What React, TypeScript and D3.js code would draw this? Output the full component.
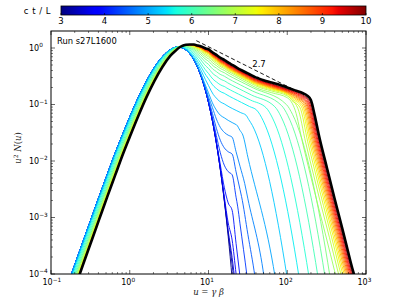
import React from 'react';
import * as d3 from 'd3';

// ---------- data ----------
const xDomain = [0.1, 1000];
const yDomain = [1e-4, 2];
const xTickValues = [0.1, 1, 10, 100, 1000];
const xTickExps = ['\u22121', '0', '1', '2', '3'];
const yTickValues = [1e-4, 1e-3, 1e-2, 1e-1, 1];
const yTickExps = ['\u22124', '\u22123', '\u22122', '\u22121', '0'];
const colorbarTicks = [3, 4, 5, 6, 7, 8, 9, 10];
const runLabel = 'Run s27L1600';
const slopeLabel = '2.7';
const slopeLineU = [7, 195];
const slopeLineV = [1.35, 0.1315];

// thermal part of the earliest spectrum (log10 u, log10 u^2 N)
const thermalLogU = [-1.0, -0.9, -0.8, -0.7, -0.6, -0.5, -0.4, -0.3, -0.2, -0.1, 0, 0.1, 0.2, 0.3, 0.4, 0.5, 0.55, 0.6, 0.65, 0.7, 0.75, 0.8, 0.85, 0.9, 0.95, 1.0, 1.05, 1.1, 1.15, 1.2, 1.25, 1.3, 1.35, 1.4, 1.5];
const thermalLogV = [-5.04, -4.64, -4.24, -3.84, -3.45, -3.06, -2.67, -2.29, -1.91, -1.56, -1.22, -0.9, -0.615, -0.37, -0.175, -0.042, -0.002, 0.016, 0.011, -0.021, -0.081, -0.176, -0.306, -0.479, -0.696, -0.966, -1.293, -1.686, -2.151, -2.7, -3.336, -4.08, -4.93, -5.92, -8.34];

const times = [3, 3.25, 3.5, 3.75, 4, 4.25, 4.5, 4.75, 5, 5.25, 5.5, 5.75, 6, 6.25, 6.5, 6.75, 7, 7.25, 7.5, 7.75, 8, 8.25, 8.5, 8.75, 9, 9.25, 9.5, 9.75, 10];
const thermalShiftLogU = [0, 0, 0, 0, 0, 0, 0, 0, 0, 0.01, 0.02, 0.032, 0.045, 0.057, 0.068, 0.078, 0.087, 0.094, 0.1, 0.104, 0.107, 0.109, 0.11, 0.111, 0.112, 0.113, 0.113, 0.114, 0.114];
const thermalShiftLogV = [0, 0, 0, 0, 0, 0, 0, 0, 0, 0.003, 0.006, 0.01, 0.014, 0.017, 0.021, 0.024, 0.027, 0.029, 0.03, 0.031, 0.032, 0.033, 0.033, 0.034, 0.034, 0.035, 0.035, 0.035, 0.035];

// non-thermal component of each spectrum: [log10 u, log10 u^2 N]
const tailKnots: number[][][] = [
  [],
  [[0.7, -6.2], [0.9, -4.4], [1.05, -4.05], [1.3, -4.2], [1.35, -4.6], [1.45, -5.5], [1.65, -7.5]],
  [[0.7, -5.95], [0.9, -4.15], [1.05, -3.8], [1.3, -3.95], [1.34, -4.3], [1.44, -5.3], [1.64, -7.5]],
  [[0.7, -5.5], [0.9, -3.7], [1.05, -3.35], [1.3, -3.5], [1.35, -4.05], [1.45, -5.2], [1.65, -7.5]],
  [[0.7, -4.9], [0.9, -3.1], [1.05, -2.75], [1.3, -2.9], [1.4, -4.05], [1.5, -5.2], [1.7, -7.5]],
  [[0.7, -4.25], [0.9, -2.45], [1.05, -2.1], [1.3, -2.25], [1.37, -2.8], [1.49, -4.05], [1.59, -5.2], [1.79, -7.5]],
  [[0.7, -3.88], [0.9, -2.08], [1.05, -1.73], [1.3, -1.88], [1.42, -2.63], [1.59, -4.05], [1.69, -5.2], [1.89, -7.5]],
  [[0.7, -3.58], [0.9, -1.78], [1.05, -1.43], [1.3, -1.58], [1.46, -2.4], [1.705, -4.05], [1.805, -5.2], [2.005, -7.5]],
  [[0.6, -4.02], [0.8, -2.02], [0.9, -1.53], [1.0, -1.28], [1.1, -1.23], [1.2, -1.25], [1.3, -1.32], [1.356, -1.36], [1.436, -1.54], [1.845, -4.05], [1.945, -5.0], [2.145, -7.3]],
  [[0.6, -3.77], [0.8, -1.77], [0.9, -1.28], [1.0, -1.03], [1.1, -0.98], [1.2, -1.0], [1.3, -1.07], [1.477, -1.19], [1.557, -1.37], [1.997, -4.05], [2.097, -5.0], [2.297, -7.3]],
  [[0.6, -3.58], [0.8, -1.58], [0.9, -1.09], [1.0, -0.84], [1.1, -0.79], [1.2, -0.81], [1.3, -0.88], [1.612, -1.1], [1.692, -1.28], [2.149, -4.05], [2.249, -5.0], [2.449, -7.3]],
  [[0.6, -3.46], [0.8, -1.46], [0.9, -0.97], [1.0, -0.72], [1.1, -0.67], [1.2, -0.69], [1.3, -0.76], [1.733, -1.06], [1.813, -1.24], [2.276, -4.05], [2.376, -5.0], [2.576, -7.3]],
  [[0.6, -3.36], [0.8, -1.36], [0.9, -0.87], [1.0, -0.62], [1.1, -0.57], [1.2, -0.59], [1.3, -0.66], [1.843, -1.04], [1.923, -1.22], [2.39, -4.05], [2.49, -5.0], [2.69, -7.3]],
  [[0.6, -3.28], [0.8, -1.28], [0.9, -0.79], [1.0, -0.54], [1.1, -0.49], [1.2, -0.51], [1.3, -0.58], [1.929, -1.02], [2.009, -1.2], [2.48, -4.05], [2.58, -5.0], [2.78, -7.3]],
  [[0.6, -3.22], [0.8, -1.22], [0.9, -0.73], [1.0, -0.48], [1.1, -0.43], [1.2, -0.45], [1.3, -0.52], [1.989, -1.0], [2.069, -1.18], [2.543, -4.05], [2.643, -5.0], [2.843, -7.3]],
  [[0.6, -3.18], [0.8, -1.18], [0.9, -0.69], [1.0, -0.44], [1.1, -0.39], [1.2, -0.41], [1.3, -0.48], [1.6, -0.7], [1.8, -0.79], [2.0, -0.88], [2.1, -1.1], [2.2, -1.71], [2.3, -2.28], [2.4, -2.84], [2.5, -3.38], [2.6, -3.94], [2.7, -4.48], [2.9, -6.18]],
  [[0.6, -3.15], [0.8, -1.15], [0.9, -0.66], [1.0, -0.41], [1.1, -0.36], [1.2, -0.38], [1.3, -0.45], [1.6, -0.67], [1.8, -0.76], [2.0, -0.85], [2.135, -1.07], [2.235, -1.68], [2.335, -2.25], [2.435, -2.81], [2.535, -3.35], [2.635, -3.91], [2.735, -4.45], [2.935, -6.15]],
  [[0.6, -3.13], [0.8, -1.13], [0.9, -0.64], [1.0, -0.39], [1.1, -0.34], [1.2, -0.36], [1.3, -0.43], [1.6, -0.65], [1.8, -0.74], [2.0, -0.83], [2.06, -0.93], [2.16, -1.05], [2.26, -1.66], [2.36, -2.23], [2.46, -2.79], [2.56, -3.33], [2.66, -3.89], [2.76, -4.43], [2.96, -6.13]],
  [[0.6, -3.115], [0.8, -1.115], [0.9, -0.625], [1.0, -0.375], [1.1, -0.325], [1.2, -0.345], [1.3, -0.415], [1.6, -0.635], [1.8, -0.725], [2.0, -0.815], [2.08, -0.915], [2.18, -1.035], [2.28, -1.645], [2.38, -2.215], [2.48, -2.775], [2.58, -3.315], [2.68, -3.875], [2.78, -4.415], [2.98, -6.115]],
  [[0.6, -3.105], [0.8, -1.105], [0.9, -0.615], [1.0, -0.365], [1.1, -0.315], [1.2, -0.335], [1.3, -0.405], [1.6, -0.625], [1.8, -0.715], [2.0, -0.805], [2.097, -0.905], [2.197, -1.025], [2.297, -1.635], [2.397, -2.205], [2.497, -2.765], [2.597, -3.305], [2.697, -3.865], [2.797, -4.405], [2.997, -6.105]],
  [[0.6, -3.095], [0.8, -1.095], [0.9, -0.605], [1.0, -0.355], [1.1, -0.305], [1.2, -0.325], [1.3, -0.395], [1.6, -0.615], [1.8, -0.705], [2.0, -0.795], [2.112, -0.895], [2.212, -1.015], [2.312, -1.625], [2.412, -2.195], [2.512, -2.755], [2.612, -3.295], [2.712, -3.855], [2.812, -4.395], [3.012, -6.095]],
  [[0.6, -3.085], [0.8, -1.085], [0.9, -0.595], [1.0, -0.345], [1.1, -0.295], [1.2, -0.315], [1.3, -0.385], [1.6, -0.605], [1.8, -0.695], [2.0, -0.785], [2.125, -0.885], [2.225, -1.005], [2.325, -1.615], [2.425, -2.185], [2.525, -2.745], [2.625, -3.285], [2.725, -3.845], [2.825, -4.385], [3.025, -6.085]],
  [[0.6, -3.075], [0.8, -1.075], [0.9, -0.585], [1.0, -0.335], [1.1, -0.285], [1.2, -0.305], [1.3, -0.375], [1.6, -0.595], [1.8, -0.685], [2.0, -0.775], [2.137, -0.875], [2.237, -0.995], [2.337, -1.605], [2.437, -2.175], [2.537, -2.735], [2.637, -3.275], [2.737, -3.835], [2.837, -4.375], [3.037, -6.075]],
  [[0.6, -3.065], [0.8, -1.065], [0.9, -0.575], [1.0, -0.325], [1.1, -0.275], [1.2, -0.295], [1.3, -0.365], [1.6, -0.585], [1.8, -0.675], [2.0, -0.765], [2.148, -0.865], [2.248, -0.985], [2.348, -1.595], [2.448, -2.165], [2.548, -2.725], [2.648, -3.265], [2.748, -3.825], [2.848, -4.365], [3.048, -6.065]],
  [[0.6, -3.055], [0.8, -1.055], [0.9, -0.565], [1.0, -0.315], [1.1, -0.265], [1.2, -0.285], [1.3, -0.355], [1.6, -0.575], [1.8, -0.665], [2.0, -0.755], [2.158, -0.855], [2.258, -0.975], [2.358, -1.585], [2.458, -2.155], [2.558, -2.715], [2.658, -3.255], [2.758, -3.815], [2.858, -4.355], [3.058, -6.055]],
  [[0.6, -3.045], [0.8, -1.045], [0.9, -0.555], [1.0, -0.305], [1.1, -0.255], [1.2, -0.275], [1.3, -0.345], [1.6, -0.565], [1.8, -0.655], [2.0, -0.745], [2.168, -0.845], [2.268, -0.965], [2.368, -1.575], [2.468, -2.145], [2.568, -2.705], [2.668, -3.245], [2.768, -3.805], [2.868, -4.345], [3.068, -6.045]],
  [[0.6, -3.035], [0.8, -1.035], [0.9, -0.545], [1.0, -0.295], [1.1, -0.245], [1.2, -0.265], [1.3, -0.335], [1.6, -0.555], [1.8, -0.645], [2.0, -0.735], [2.178, -0.835], [2.278, -0.955], [2.378, -1.565], [2.478, -2.135], [2.578, -2.695], [2.678, -3.235], [2.778, -3.795], [2.878, -4.335], [3.078, -6.035]],
  [[0.6, -3.025], [0.8, -1.025], [0.9, -0.535], [1.0, -0.285], [1.1, -0.235], [1.2, -0.255], [1.3, -0.325], [1.6, -0.545], [1.8, -0.635], [2.0, -0.725], [2.188, -0.825], [2.288, -0.945], [2.388, -1.555], [2.488, -2.125], [2.588, -2.685], [2.688, -3.225], [2.788, -3.785], [2.888, -4.325], [3.088, -6.025]],
  [[0.6, -3.0], [0.8, -1.0], [0.9, -0.51], [1.0, -0.26], [1.1, -0.21], [1.2, -0.23], [1.3, -0.3], [1.4, -0.38], [1.5, -0.45], [1.6, -0.52], [1.7, -0.57], [1.8, -0.61], [1.9, -0.65], [2.0, -0.7], [2.1, -0.75], [2.2, -0.8], [2.25, -0.84], [2.3, -0.92], [2.35, -1.2], [2.4, -1.53], [2.5, -2.1], [2.6, -2.66], [2.7, -3.2], [2.8, -3.76], [2.9, -4.3], [3.0, -5.0], [3.1, -6]],
];

// ---------- helpers ----------
const jetR = d3.scaleLinear().domain([0, 0.35, 0.66, 0.89, 1]).range([0, 0, 1, 1, 0.5]).clamp(true);
const jetG = d3.scaleLinear().domain([0, 0.125, 0.375, 0.64, 0.91, 1]).range([0, 0, 1, 1, 0, 0]).clamp(true);
const jetB = d3.scaleLinear().domain([0, 0.11, 0.34, 0.65, 1]).range([0.5, 1, 1, 0, 0]).clamp(true);
const jet = (f: number) => d3.rgb(255 * jetR(f), 255 * jetG(f), 255 * jetB(f)).formatHex();

function interp(xs: number[], ys: number[], x: number): number {
  if (!xs.length || x < xs[0] || x > xs[xs.length - 1]) return -30;
  let j = d3.bisectRight(xs, x);
  if (j >= xs.length) j = xs.length - 1;
  if (j < 1) j = 1;
  const x0 = xs[j - 1], x1 = xs[j];
  const f = (x - x0) / (x1 - x0);
  return ys[j - 1] + f * (ys[j] - ys[j - 1]);
}

function spectrum(i: number): [number, number][] {
  const dlu = thermalShiftLogU[i];
  const dlv = thermalShiftLogV[i];
  const knots = tailKnots[i];
  const kx = knots.map(k => k[0]);
  const ky = knots.map(k => k[1]);
  const set = new Set<number>();
  thermalLogU.forEach(l => set.add(+(l + dlu).toFixed(4)));
  kx.forEach(l => set.add(l));
  const lus = Array.from(set).sort((a, b) => a - b);
  const pts: [number, number][] = [];
  lus.forEach(lu => {
    const th = interp(thermalLogU, thermalLogV, lu - dlu) + dlv;
    const tl = interp(kx, ky, lu);
    const v = Math.pow(10, th) + Math.pow(10, tl);
    if (Math.log10(v) > -9) pts.push([Math.pow(10, lu), v]);
  });
  return pts;
}

export default function App() {
  const X0 = 51, X1 = 366, Y0 = 31, Y1 = 274;
  const x = d3.scaleLog().domain(xDomain).range([X0, X1]);
  const y = d3.scaleLog().domain(yDomain).range([Y1, Y0]);
  const cb = d3.scaleLinear().domain([3, 10]).range([61, 366]);
  const cbY0 = 6, cbY1 = 15;

  const line = d3.line<[number, number]>()
    .x(d => x(d[0]))
    .y(d => y(d[1]))
    .curve(d3.curveMonotoneX);

  const xMinor: number[] = [];
  [0.1, 1, 10, 100].forEach(dec => { for (let k = 2; k <= 9; k++) xMinor.push(dec * k); });
  const yMinor: number[] = [];
  [1e-4, 1e-3, 1e-2, 1e-1].forEach(dec => { for (let k = 2; k <= 9; k++) yMinor.push(dec * k); });

  const gradStops = d3.range(0, 1.0001, 0.01);
  const font = 'DejaVu Sans, Liberation Sans, sans-serif';
  const serif = 'DejaVu Serif, Liberation Serif, serif';

  return (
    <svg width={407} height={305} style={{ position: 'absolute', left: 0, top: 0, background: '#fff' }} fontFamily={font}>
      <defs>
        <clipPath id="plotClip">
          <rect x={X0} y={Y0} width={X1 - X0} height={Y1 - Y0} />
        </clipPath>
        <linearGradient id="jetGrad" x1="0" x2="1" y1="0" y2="0">
          {gradStops.map(s => <stop key={s} offset={s} stopColor={jet(s)} />)}
        </linearGradient>
      </defs>
      <rect x={0} y={0} width={407} height={305} fill="#fff" />

      {/* colorbar */}
      <rect x={cb(3)} y={cbY0} width={cb(10) - cb(3)} height={cbY1 - cbY0} fill="url(#jetGrad)" stroke="#000" strokeWidth={0.8} />
      {colorbarTicks.map(t => (
        <g key={t}>
          <line x1={cb(t)} x2={cb(t)} y1={cbY1} y2={cbY1 - 2} stroke="#000" strokeWidth={0.6} />
          <text x={cb(t)} y={24} fontSize={8.5} textAnchor="middle">{t}</text>
        </g>
      ))}
      <text x={51} y={13.5} fontSize={8.5} textAnchor="end" letterSpacing={0.5}>c t / L</text>

      {/* curves */}
      <g clipPath="url(#plotClip)">
        {times.map((t, i) => i < times.length - 1 ? (
          <path key={t} d={line(spectrum(i)) || ''} fill="none" stroke={jet((t - 3) / 7)} strokeWidth={0.9} />
        ) : null)}
        <path d={line(spectrum(times.length - 1)) || ''} fill="none" stroke="#000" strokeWidth={2.6} />
        <line x1={x(slopeLineU[0])} y1={y(slopeLineV[0])} x2={x(slopeLineU[1])} y2={y(slopeLineV[1])}
          stroke="#000" strokeWidth={0.9} strokeDasharray="4,2.5" />
      </g>
      <text x={x(43.8)} y={y(0.46)} fontSize={8.5} textAnchor="middle">{slopeLabel}</text>
      <text x={57} y={43.5} fontSize={8.4}>{runLabel}</text>

      {/* frame and ticks */}
      <rect x={X0} y={Y0} width={X1 - X0} height={Y1 - Y0} fill="none" stroke="#000" strokeWidth={1} />
      {xTickValues.map(v => (
        <g key={'xt' + v}>
          <line x1={x(v)} x2={x(v)} y1={Y1} y2={Y1 - 4} stroke="#000" strokeWidth={0.6} />
          <line x1={x(v)} x2={x(v)} y1={Y0} y2={Y0 + 4} stroke="#000" strokeWidth={0.6} />
        </g>
      ))}
      {xMinor.map(v => (
        <g key={'xm' + v}>
          <line x1={x(v)} x2={x(v)} y1={Y1} y2={Y1 - 2} stroke="#000" strokeWidth={0.5} />
          <line x1={x(v)} x2={x(v)} y1={Y0} y2={Y0 + 2} stroke="#000" strokeWidth={0.5} />
        </g>
      ))}
      {yTickValues.map(v => (
        <g key={'yt' + v}>
          <line x1={X0} x2={X0 + 4} y1={y(v)} y2={y(v)} stroke="#000" strokeWidth={0.6} />
          <line x1={X1} x2={X1 - 4} y1={y(v)} y2={y(v)} stroke="#000" strokeWidth={0.6} />
        </g>
      ))}
      {yMinor.map(v => (
        <g key={'ym' + v}>
          <line x1={X0} x2={X0 + 2} y1={y(v)} y2={y(v)} stroke="#000" strokeWidth={0.5} />
          <line x1={X1} x2={X1 - 2} y1={y(v)} y2={y(v)} stroke="#000" strokeWidth={0.5} />
        </g>
      ))}

      {/* tick labels */}
      {xTickValues.map((v, i) => (
        <text key={'xl' + v} x={x(v) - 8.5} y={285} fontSize={8}>
          10<tspan dy={-3.5} fontSize={5.8}>{xTickExps[i]}</tspan>
        </text>
      ))}
      {yTickValues.map((v, i) => (
        <text key={'yl' + v} x={29} y={y(v) + 2.8} fontSize={8}>
          10<tspan dy={-3.5} fontSize={5.8}>{yTickExps[i]}</tspan>
        </text>
      ))}

      {/* axis titles */}
      <text x={208.5} y={295} fontSize={8.5} textAnchor="middle" fontFamily={serif} fill="#222">
        <tspan fontStyle="italic">u</tspan> = <tspan fontStyle="italic">γ</tspan> <tspan fontStyle="italic">β</tspan>
      </text>
      <text transform="translate(21,148) rotate(-90)" fontSize={8.5} textAnchor="middle" fontFamily={serif} fill="#222">
        <tspan fontStyle="italic">u</tspan><tspan dy={-3} fontSize={6}>2</tspan><tspan dy={3}> </tspan><tspan fontStyle="italic">N</tspan>(<tspan fontStyle="italic">u</tspan>)
      </text>
    </svg>
  );
}
